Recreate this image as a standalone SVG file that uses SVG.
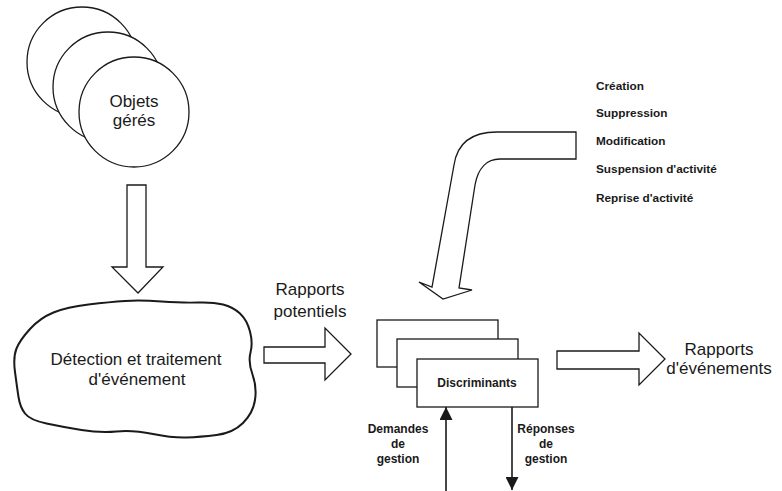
<svg xmlns="http://www.w3.org/2000/svg" width="782" height="491" viewBox="0 0 782 491">
  <defs>
    <style>
      .shape { fill: #fff; stroke: #1a1a1a; stroke-width: 1.3; stroke-linejoin: miter; }
      .blob { fill: #fff; stroke: #1a1a1a; stroke-width: 2; }
      .line { fill: none; stroke: #1a1a1a; stroke-width: 1.6; }
      .lbl { font-family: "Liberation Sans", Arial, sans-serif; font-size: 17px; fill: #1a1a1a; text-anchor: middle; }
      .sm { font-family: "Liberation Sans", Arial, sans-serif; font-size: 11.8px; font-weight: bold; fill: #1a1a1a; }
      .smc { text-anchor: middle; font-size: 12px; }
    </style>
    <marker id="head" viewBox="0 0 10 10" refX="10" refY="5" markerWidth="13" markerHeight="13" markerUnits="userSpaceOnUse" orient="auto">
      <path d="M0,0 L10,5 L0,10 Z" fill="#1a1a1a"/>
    </marker>
  </defs>
  <rect width="782" height="491" fill="#fff"/>

  <!-- managed objects: three stacked circles -->
  <g id="objets">
    <circle class="shape" cx="82" cy="62" r="55"/>
    <circle class="shape" cx="108" cy="87" r="55"/>
    <circle class="shape" cx="134" cy="112" r="55"/>
    <text class="lbl" x="134" y="107">Objets</text>
    <text class="lbl" x="134" y="126">gérés</text>
  </g>

  <!-- event detection and processing -->
  <g id="detection">
    <path class="blob" d="M53.5,312.5 Q67,307 88.5,304.5 Q110,302 125,301 Q140,300 161.5,301.5 Q183,303 198,302.5 Q213,302 223,304.5 Q233,307 240,313.5 Q247,320 250,331.5 Q253,343 250.5,352.5 Q248,362 252.5,374.5 Q257,387 255,400 Q253,413 243,423 Q233,433 216.5,435 Q200,437 186.5,437.5 Q173,438 153,434 Q133,430 116.5,431.5 Q100,433 81.5,430 Q63,427 46.5,423.5 Q30,420 25,413.5 Q20,407 18.5,397 Q17,387 15,372 Q13,357 16.5,348.5 Q20,340 30,329 Q40,318 53.5,312.5 Z"/>
    <text class="lbl" x="136" y="365">Détection et traitement</text>
    <text class="lbl" x="137" y="385">d'événement</text>
  </g>

  <!-- discriminators: three stacked boxes -->
  <g id="discriminants">
    <rect class="shape" x="377" y="320" width="121" height="47"/>
    <rect class="shape" x="397" y="339" width="121" height="48"/>
    <rect class="shape" x="417" y="359" width="121" height="48"/>
    <text class="sm smc" x="477" y="387">Discriminants</text>
  </g>

  <!-- management operations list -->
  <g id="operations">
    <text class="sm" x="596" y="90">Création</text>
    <text class="sm" x="596" y="117">Suppression</text>
    <text class="sm" x="596" y="145">Modification</text>
    <text class="sm" x="596" y="173">Suspension d'activité</text>
    <text class="sm" x="596" y="202">Reprise d'activité</text>
  </g>

  <!-- connectors -->
  <g id="connectors">
    <polygon class="shape" points="127,185 146,185 146,267 163,267 138,293 112,267 127,267"/>
    <polygon class="shape" points="264,347 325,347 325,328 351,354 325,380 325,363 264,363"/>
    <polygon class="shape" points="557,351 639,351 639,333 665,359 639,385 639,369 557,369"/>
    <path class="shape" d="M576,132 L497,132 C470,132 457,145 454,165 L432,287 L419,282 L443,299 L472,290 L459,288 L475,185 C478,168 487,159 500,159 L576,159 Z"/>
    <line class="line" x1="446" y1="491" x2="446" y2="407" marker-end="url(#head)"/>
    <line class="line" x1="512" y1="407" x2="512" y2="490" marker-end="url(#head)"/>
  </g>

  <!-- connector labels -->
  <g id="labels">
    <text class="lbl" x="310" y="295">Rapports</text>
    <text class="lbl" x="310" y="317">potentiels</text>
    <text class="lbl" x="719" y="355">Rapports</text>
    <text class="lbl" x="719" y="374">d'événements</text>
    <text class="sm smc" x="398" y="433">Demandes</text>
    <text class="sm smc" x="398" y="448">de</text>
    <text class="sm smc" x="398" y="463">gestion</text>
    <text class="sm smc" x="546" y="433">Réponses</text>
    <text class="sm smc" x="546" y="448">de</text>
    <text class="sm smc" x="546" y="463">gestion</text>
  </g>
</svg>
